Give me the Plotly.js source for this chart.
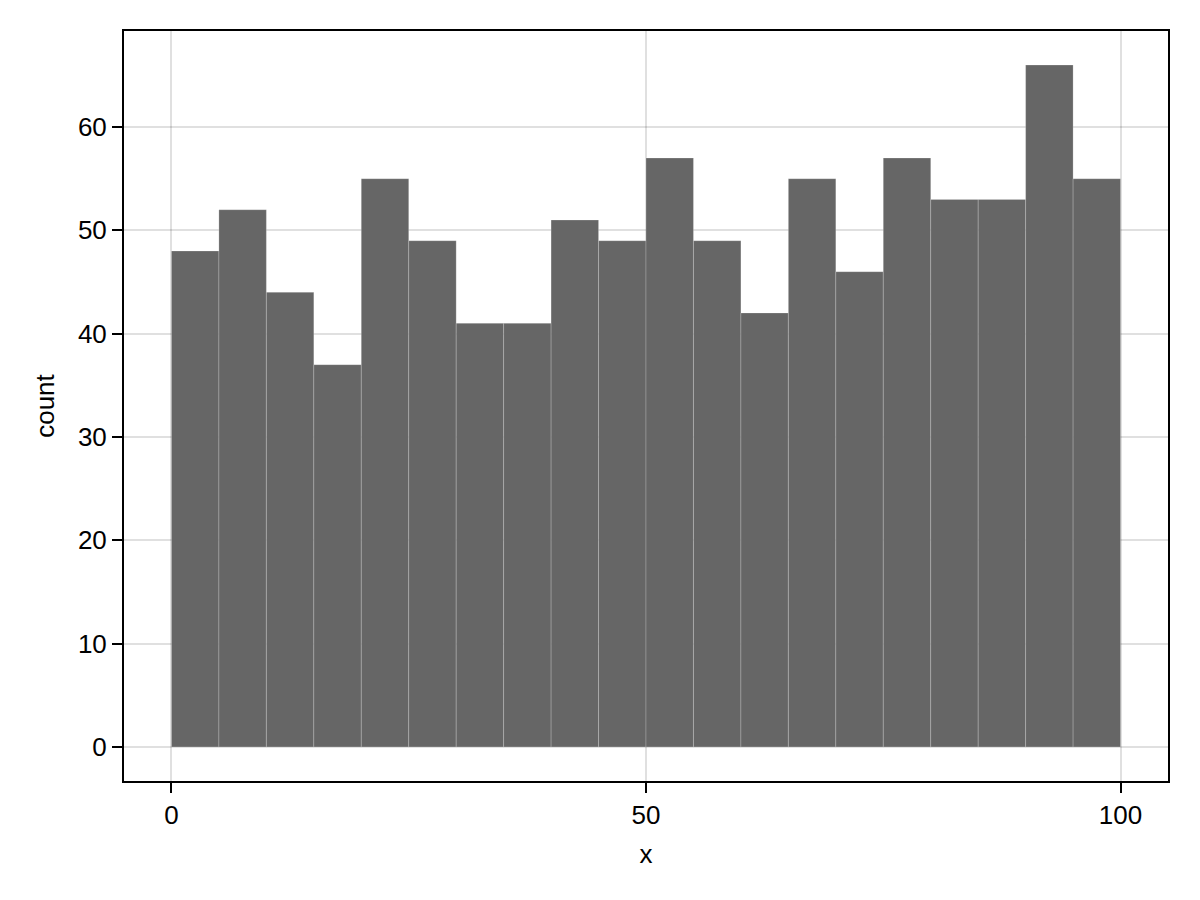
<!DOCTYPE html>
<html>
<head>
<meta charset="utf-8">
<script src="https://cdn.plot.ly/plotly-3.0.1.min.js"></script>
<style>html,body{margin:0;padding:0;background:#fff;}#chart{width:1200px;height:900px;}</style>
</head>
<body>
<div id="chart"></div>
<script>
const binStarts = [0,5,10,15,20,25,30,35,40,45,50,55,60,65,70,75,80,85,90,95];
const binWidth = 5;
const counts = [48,52,44,37,55,49,41,41,51,49,57,49,42,55,46,57,53,53,66,55];
const xTicks = [0,50,100];
const yTicks = [0,10,20,30,40,50,60];

const centers = binStarts.map(s => s + binWidth/2);
const trace = {
  type: 'bar',
  x: centers,
  y: counts,
  width: binStarts.map(() => binWidth),
  marker: {color: '#666666', line: {color: 'rgba(255,255,255,0.2)', width: 1}},
  hoverinfo: 'x+y'
};
const font = {family: 'Liberation Sans, Arial, sans-serif', size: 26, color: '#000'};
const layout = {
  width: 1200, height: 900,
  margin: {l: 124, r: 32, t: 31, b: 119},
  paper_bgcolor: '#fff', plot_bgcolor: '#fff',
  font: font,
  showlegend: false,
  bargap: 0,
  xaxis: {
    range: [-5, 105], tickvals: xTicks, ticktext: xTicks.map(String),
    ticks: 'outside', ticklen: 10, tickwidth: 2, tickcolor: '#000',
    showline: true, linecolor: '#000', linewidth: 2, mirror: true,
    showgrid: true, gridcolor: 'rgba(0,0,0,0.12)', gridwidth: 2,
    zeroline: false, tickfont: font,
    title: {text: 'x', font: font, standoff: 16}
  },
  yaxis: {
    range: [-3.3, 69.3], tickvals: yTicks, ticktext: yTicks.map(String),
    ticks: 'outside', ticklen: 10, tickwidth: 2, tickcolor: '#000',
    showline: true, linecolor: '#000', linewidth: 2, mirror: true,
    showgrid: true, gridcolor: 'rgba(0,0,0,0.12)', gridwidth: 2,
    zeroline: false, tickfont: font,
    title: {text: 'count', font: font, standoff: 16}
  }
};
Plotly.newPlot('chart', [trace], layout, {displayModeBar: false, staticPlot: true});
</script>
</body>
</html>
